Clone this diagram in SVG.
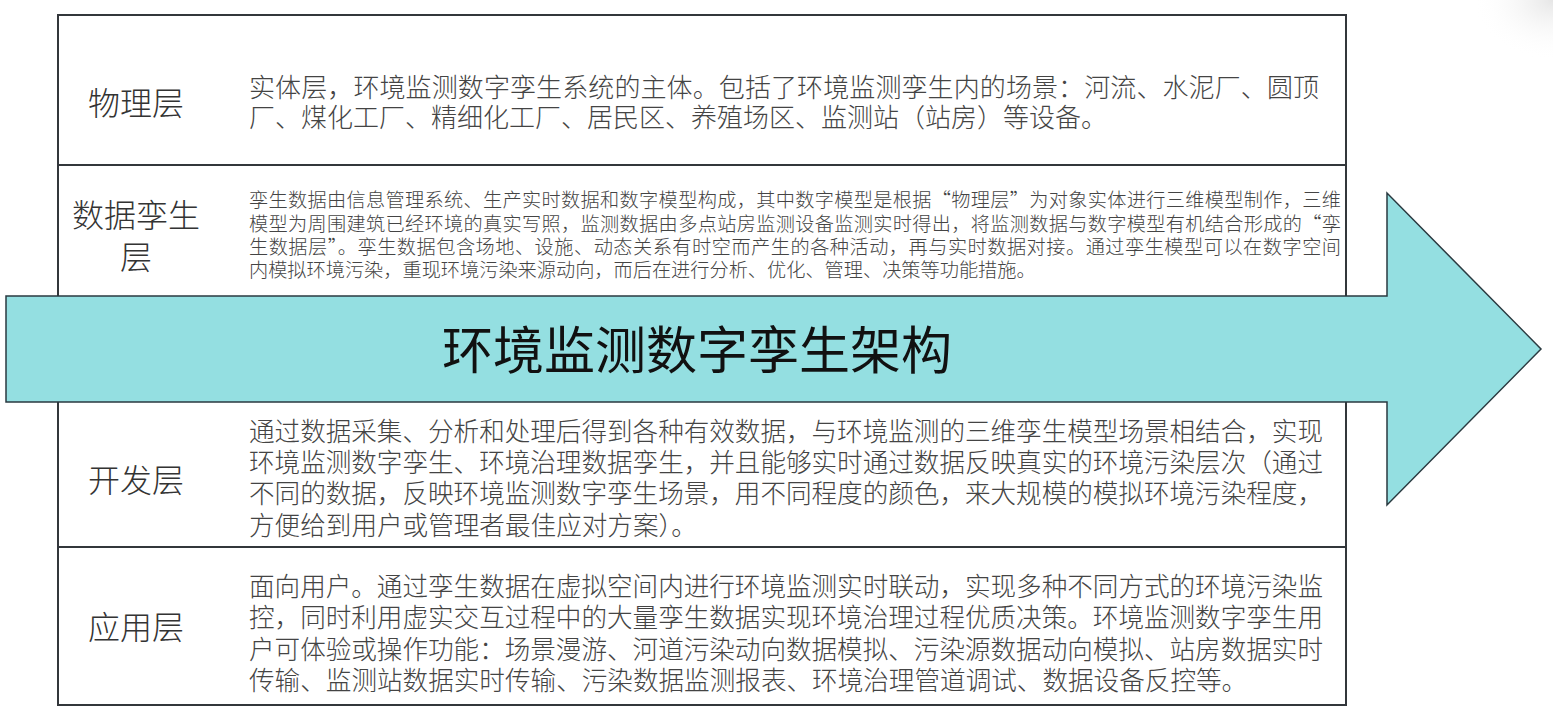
<svg xmlns="http://www.w3.org/2000/svg" width="1553" height="718" viewBox="0 0 1553 718">
<defs>
<radialGradient id="corner" cx="1" cy="0" r="1">
<stop offset="0" stop-color="#e6e6e6"/>
<stop offset="1" stop-color="#ffffff" stop-opacity="0"/>
</radialGradient>
</defs>
<style>
text{font-family:"Noto Sans CJK SC","Microsoft YaHei",sans-serif;font-weight:300;}
.lbl{font-size:32px;fill:#333333;text-anchor:middle;}
.big{font-size:26px;fill:#444444;}
.mid{font-size:25.6px;fill:#444444;}
.sm{font-size:19.2px;fill:#444444;}
.title{font-size:51px;fill:#111111;text-anchor:middle;font-weight:400;}
.frame{fill:#ffffff;stroke:#33373b;stroke-width:2;}
.div{stroke:#33373b;stroke-width:2;}
.arrow{fill:#94dfe1;stroke:#2a3a40;stroke-width:1.5;stroke-linejoin:miter;}
</style>
<rect width="1553" height="718" fill="#ffffff"/>
<rect x="1473" y="0" width="80" height="60" fill="url(#corner)"/>
<g id="table">
<rect class="frame" x="58" y="15" width="1288" height="690"/>
<line class="div" x1="58" y1="165" x2="1346" y2="165"/>
<line class="div" x1="58" y1="547" x2="1346" y2="547"/>
</g>
<g id="layer-physical">
<text class="lbl" x="136" y="115">物理层</text>
<text class="big" x="249" y="97" textLength="1070" lengthAdjust="spacing">实体层，环境监测数字孪生系统的主体。包括了环境监测孪生内的场景：河流、水泥厂、圆顶</text>
<text class="big" x="249" y="127">厂、煤化工厂、精细化工厂、居民区、养殖场区、监测站（站房）等设备。</text>
</g>
<g id="layer-data-twin">
<text class="lbl" x="136" y="227">数据孪生</text>
<text class="lbl" x="136" y="269">层</text>
<text class="sm" x="249" y="207" textLength="1092" lengthAdjust="spacing">孪生数据由信息管理系统、生产实时数据和数字模型构成，其中数字模型是根据“物理层”为对象实体进行三维模型制作，三维</text>
<text class="sm" x="249" y="231" textLength="1092" lengthAdjust="spacing">模型为周围建筑已经环境的真实写照，监测数据由多点站房监测设备监测实时得出，将监测数据与数字模型有机结合形成的“孪</text>
<text class="sm" x="249" y="254" textLength="1092" lengthAdjust="spacing">生数据层”。孪生数据包含场地、设施、动态关系有时空而产生的各种活动，再与实时数据对接。通过孪生模型可以在数字空间</text>
<text class="sm" x="249" y="277">内模拟环境污染，重现环境污染来源动向，而后在进行分析、优化、管理、决策等功能措施。</text>
</g>
<g id="arrow-title">
<polygon class="arrow" points="6,296 1387,296 1387,193 1541,349 1387,505 1387,402 6,402"/>
<text class="title" x="697" y="369">环境监测数字孪生架构</text>
</g>
<g id="layer-development">
<text class="lbl" x="136" y="492">开发层</text>
<text class="mid" x="249" y="441" textLength="1074" lengthAdjust="spacing">通过数据采集、分析和处理后得到各种有效数据，与环境监测的三维孪生模型场景相结合，实现</text>
<text class="mid" x="249" y="472" textLength="1074" lengthAdjust="spacing">环境监测数字孪生、环境治理数据孪生，并且能够实时通过数据反映真实的环境污染层次（通过</text>
<text class="mid" x="249" y="503" textLength="1074" lengthAdjust="spacing">不同的数据，反映环境监测数字孪生场景，用不同程度的颜色，来大规模的模拟环境污染程度，</text>
<text class="mid" x="249" y="535">方便给到用户或管理者最佳应对方案）。</text>
</g>
<g id="layer-application">
<text class="lbl" x="136" y="639">应用层</text>
<text class="mid" x="249" y="596" textLength="1074" lengthAdjust="spacing">面向用户。通过孪生数据在虚拟空间内进行环境监测实时联动，实现多种不同方式的环境污染监</text>
<text class="mid" x="249" y="627" textLength="1074" lengthAdjust="spacing">控，同时利用虚实交互过程中的大量孪生数据实现环境治理过程优质决策。环境监测数字孪生用</text>
<text class="mid" x="249" y="659" textLength="1074" lengthAdjust="spacing">户可体验或操作功能：场景漫游、河道污染动向数据模拟、污染源数据动向模拟、站房数据实时</text>
<text class="mid" x="249" y="690">传输、监测站数据实时传输、污染数据监测报表、环境治理管道调试、数据设备反控等。</text>
</g>
<g id="connectors"/>
</svg>
